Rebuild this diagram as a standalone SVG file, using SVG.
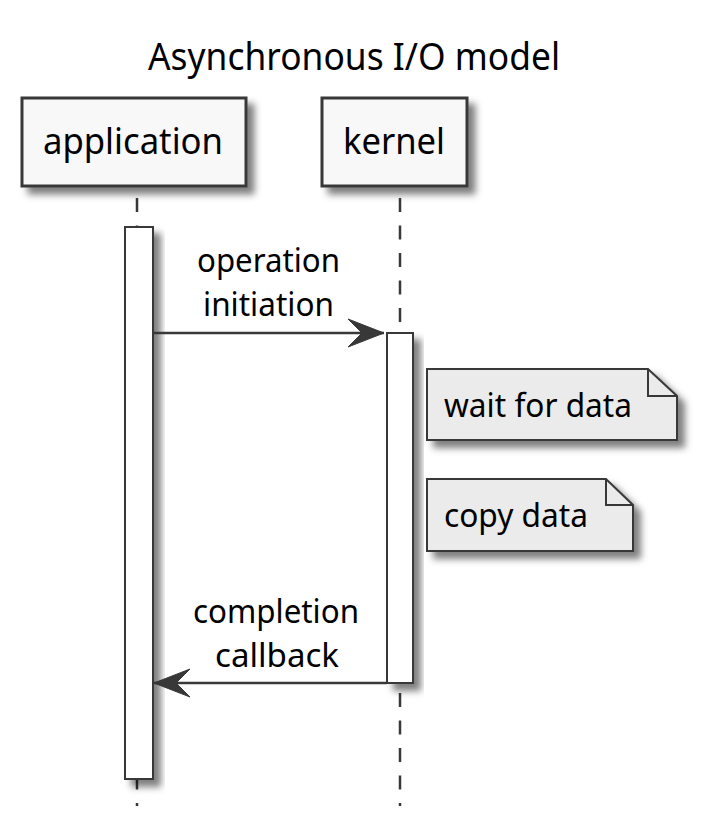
<svg xmlns="http://www.w3.org/2000/svg" width="706" height="834" viewBox="0 0 706 834">
<defs>
<filter id="sh" x="-20%" y="-20%" width="160%" height="160%">
<feDropShadow dx="7" dy="7" stdDeviation="3.5" flood-color="#000" flood-opacity="0.5"/>
</filter>
<marker id="ah" markerUnits="userSpaceOnUse" viewBox="-36 -15 38 30" refX="0" refY="0" markerWidth="38" markerHeight="30" orient="auto">
<polygon points="0,0 -36,-14 -22,0 -36,14" fill="#383838" stroke="#383838" stroke-width="1" stroke-linejoin="miter"/>
</marker>
</defs>
<style>
text{font-family:"Noto Sans","Open Sans","DejaVu Sans",sans-serif;fill:#000;}
.title{font-size:39px;}
.part{font-size:37px;}
.msg{font-size:32.5px;}
.note{font-size:32.5px;}
.pbox{fill:#F8F8F8;stroke:#383838;stroke-width:3;}
.life{stroke:#383838;stroke-width:2.5;stroke-dasharray:14 13.5;fill:none;}
.act{fill:#FFFFFF;stroke:#383838;stroke-width:2;}
.nbox{fill:#EBEBEB;stroke:#383838;stroke-width:2;stroke-linejoin:miter;}
.fold{fill:none;stroke:#383838;stroke-width:2;}
.arr{stroke:#383838;stroke-width:2.5;fill:none;}
</style>

<text class="title" x="354" y="70" text-anchor="middle" textLength="412" lengthAdjust="spacingAndGlyphs">Asynchronous I/O model</text>

<g id="lifelines">
<line class="life" x1="137" y1="198" x2="137" y2="806"/>
<line class="life" x1="400" y1="198" x2="400" y2="806"/>
</g>

<g id="application">
<rect class="pbox" x="22" y="98" width="224" height="88" filter="url(#sh)"/>
<text class="part" x="133" y="154" text-anchor="middle" textLength="180" lengthAdjust="spacingAndGlyphs">application</text>
</g>

<g id="kernel">
<rect class="pbox" x="322" y="98" width="145" height="88" filter="url(#sh)"/>
<text class="part" x="394" y="154" text-anchor="middle" textLength="102" lengthAdjust="spacingAndGlyphs">kernel</text>
</g>

<g id="application-activation">
<rect class="act" x="125" y="227" width="28" height="552" filter="url(#sh)"/>
</g>

<g id="kernel-activation">
<rect class="act" x="387" y="333" width="26" height="350" filter="url(#sh)"/>
</g>

<g id="note-wait">
<path class="nbox" d="M427,369 L648,369 L677,396 L677,440 L427,440 Z" filter="url(#sh)"/>
<path class="fold" d="M648,369 L648,396 L677,396"/>
<text class="note" x="444" y="417" textLength="188" lengthAdjust="spacingAndGlyphs">wait for data</text>
</g>

<g id="note-copy">
<path class="nbox" d="M427,479 L606,479 L633,505 L633,551 L427,551 Z" filter="url(#sh)"/>
<path class="fold" d="M606,479 L606,505 L633,505"/>
<text class="note" x="444" y="527" textLength="144" lengthAdjust="spacingAndGlyphs">copy data</text>
</g>

<g id="connectors">
<line class="arr" x1="153" y1="333" x2="384" y2="333" marker-end="url(#ah)"/>
<line class="arr" x1="387" y1="683" x2="154" y2="683" marker-end="url(#ah)"/>
<text class="msg" x="268.5" y="272" text-anchor="middle" textLength="143" lengthAdjust="spacingAndGlyphs">operation</text>
<text class="msg" x="268.5" y="316" text-anchor="middle" textLength="131" lengthAdjust="spacingAndGlyphs">initiation</text>
<text class="msg" x="276" y="623" text-anchor="middle" textLength="166" lengthAdjust="spacingAndGlyphs">completion</text>
<text class="msg" x="277" y="667" text-anchor="middle" textLength="124" lengthAdjust="spacingAndGlyphs">callback</text>
</g>
</svg>
